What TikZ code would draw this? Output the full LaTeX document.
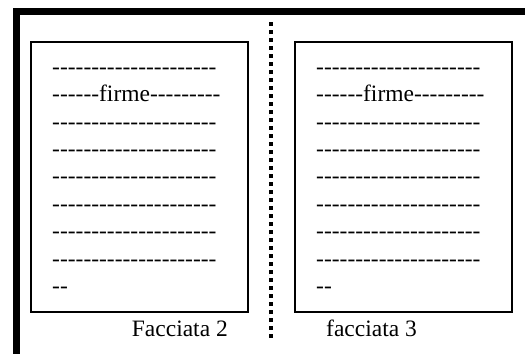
\documentclass[tikz,border=0pt]{standalone}
\usepackage{fontspec}
\setmainfont{Liberation Serif}[Ligatures=TeXOff]
\begin{document}
\begin{tikzpicture}[x=1pt,y=-1pt,
  row/.style={anchor=base west,inner sep=0pt,font=\fontsize{23.5}{27}\selectfont},
  pagelabel/.style={anchor=base west,inner sep=0pt,font=\fontsize{23.5}{27}\selectfont},
  pagebox/.style={draw=black,line width=1.5pt},
  bar/.style={fill=black}]
\useasboundingbox (0,0) rectangle (527,354);
% thick outer bars
\fill[bar] (13,8) rectangle (525,15);
\fill[bar] (13,8) rectangle (20,354);
% dotted divider
\coordinate (dtop) at (271,22);
\coordinate (dbot) at (271,340);
\draw[line width=3.8pt,dash pattern=on 3.8pt off 4.2pt] (dtop) -- (dbot);
% page boxes
\draw[pagebox] (31,42) rectangle (248,312);
\draw[pagebox] (295,42) rectangle (512,312);
% rows
\foreach \bx/\nm in {52/L,316/R}{
  \node[row] (\nm0) at (\bx,74.3) {---------------------};
  \node[row] (\nm1) at (\bx,101.7) {------firme---------};
  \node[row] (\nm2) at (\bx,129.1) {---------------------};
  \node[row] (\nm3) at (\bx,156.5) {---------------------};
  \node[row] (\nm4) at (\bx,183.9) {---------------------};
  \node[row] (\nm5) at (\bx,211.3) {---------------------};
  \node[row] (\nm6) at (\bx,238.7) {---------------------};
  \node[row] (\nm7) at (\bx,266.1) {---------------------};
  \node[row] (\nm8) at (\bx,293.5) {--};
}
\node[pagelabel] (c2) at (131.7,336) {Facciata 2};
\node[pagelabel] (c3) at (326,336) {facciata 3};
\end{tikzpicture}
\end{document}
